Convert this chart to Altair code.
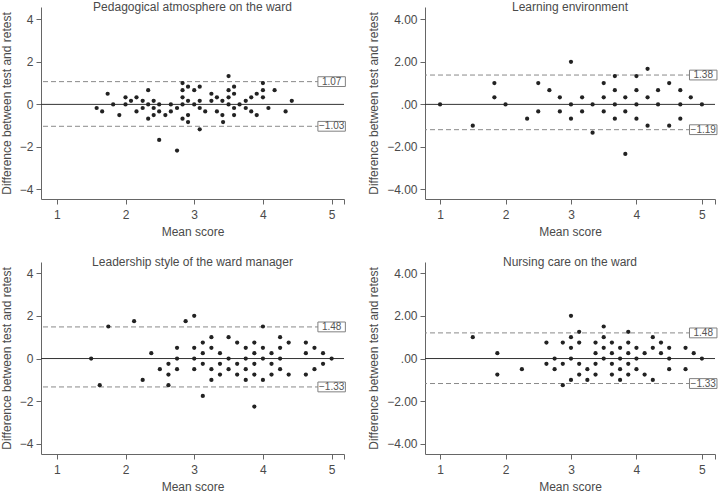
import altair as alt
import pandas as pd

FONT = "Liberation Sans"
TXT = "#4a4a4a"
AX = "#666666"

# ---------------- data ----------------
titles = ["Pedagogical atmosphere on the ward", "Learning environment",
          "Leadership style of the ward manager", "Nursing care on the ward"]

p1_mean = [1.58, 1.66, 1.74, 1.82, 1.91, 2.0, 2.0, 2.08, 2.16, 2.16, 2.25, 2.25, 2.33, 2.33, 2.33,
           2.41, 2.41, 2.41, 2.49, 2.49, 2.49, 2.58, 2.66, 2.66, 2.75, 2.75, 2.83, 2.83, 2.83, 2.83,
           2.83, 2.91, 2.91, 2.91, 2.91, 3.0, 3.0, 3.08, 3.08, 3.08, 3.08, 3.16, 3.25, 3.25, 3.33,
           3.33, 3.41, 3.41, 3.42, 3.5, 3.5, 3.5, 3.5, 3.58, 3.58, 3.58, 3.58, 3.66, 3.75, 3.75,
           3.83, 3.83, 3.91, 3.91, 4.0, 4.0, 4.0, 4.08, 4.17, 4.33, 4.42]
p1_diff = [-0.17, -0.33, 0.5, 0.0, -0.5, 0.33, 0.0, 0.17, 0.33, -0.33, 0.17, -0.17, 0.67, 0.0, -0.67,
           0.17, -0.17, -0.5, 0.0, -0.33, -1.67, -0.5, 0.0, -0.33, -0.17, -2.17, 1.0, 0.67, 0.33, 0.0,
           -0.67, 0.83, 0.17, -0.5, -0.83, 0.67, 0.0, 0.83, 0.17, -0.17, -1.17, -0.33, 0.5, 0.17, 0.33,
           -0.33, 0.17, -0.5, -0.83, 1.33, 0.67, 0.33, 0.0, 0.83, 0.5, -0.17, -0.5, 0.0, 0.17, -0.17,
           0.33, -0.33, 0.5, -0.5, 1.0, 0.67, 0.33, -0.17, 0.67, -0.33, 0.17]

p2_mean = [1.0, 1.5, 1.83, 1.83, 2.0, 2.33, 2.5, 2.5, 2.67, 2.83, 2.83, 3.0, 3.0, 3.0, 3.17, 3.17,
           3.33, 3.33, 3.5, 3.5, 3.5, 3.67, 3.67, 3.67, 3.67, 3.83, 3.83, 3.83, 4.0, 4.0, 4.0, 4.0,
           4.17, 4.17, 4.17, 4.33, 4.33, 4.5, 4.5, 4.67, 4.67, 4.67, 4.83, 5.0]
p2_diff = [0.0, -1.0, 1.0, 0.33, 0.0, -0.67, 1.0, -0.33, 0.67, 0.33, -0.33, 2.0, 0.0, -0.67, 0.33, -0.33,
           0.0, -1.33, 1.0, 0.33, -0.33, 1.33, 0.67, 0.0, -0.67, 0.33, -0.33, -2.33, 1.33, 0.67, 0.0, -0.67,
           1.67, 0.33, -1.0, 0.67, 0.0, 1.0, -1.0, 0.67, 0.0, -0.67, 0.33, 0.0]

p3_mean = [1.5, 1.625, 1.75, 2.125, 2.25, 2.375, 2.5, 2.625, 2.625, 2.625, 2.75, 2.75, 2.75, 2.875,
           3.0, 3.0, 3.0, 3.0, 3.125, 3.125, 3.125, 3.125, 3.25, 3.25, 3.25, 3.25, 3.375, 3.375, 3.375,
           3.5, 3.5, 3.5, 3.625, 3.625, 3.625, 3.75, 3.75, 3.75, 3.75, 3.875, 3.875, 3.875, 3.875, 3.875,
           4.0, 4.0, 4.0, 4.0, 4.125, 4.125, 4.125, 4.25, 4.25, 4.25, 4.25, 4.375, 4.375, 4.625, 4.625,
           4.625, 4.75, 4.75, 4.875, 4.875, 5.0]
p3_diff = [0.0, -1.25, 1.5, 1.75, -1.0, 0.25, -0.5, -0.25, -0.75, -1.25, 0.5, 0.0, -0.5, 1.75,
           2.0, 0.5, 0.0, -0.5, 0.75, 0.25, -0.25, -1.75, 1.0, 0.5, -0.5, -1.0, 0.25, -0.25, -0.75,
           1.0, 0.0, -0.5, 0.75, -0.25, -0.75, 0.5, 0.0, -0.5, -1.0, 0.75, 0.25, -0.25, -0.75, -2.25,
           1.5, 0.5, 0.0, -1.0, 0.25, -0.25, -0.75, 1.0, 0.5, 0.0, -0.5, 0.75, -0.75, 0.75, 0.25,
           -0.75, 0.5, -0.5, 0.25, -0.25, 0.0]

p4_mean = [1.5, 1.875, 1.875, 2.25, 2.625, 2.625, 2.75, 2.75, 2.875, 2.875, 2.875, 3.0, 3.0, 3.0, 3.0,
           3.0, 3.125, 3.125, 3.125, 3.125, 3.25, 3.25, 3.375, 3.375, 3.375, 3.375, 3.5, 3.5, 3.5, 3.5,
           3.625, 3.625, 3.625, 3.625, 3.75, 3.75, 3.75, 3.75, 3.875, 3.875, 3.875, 3.875, 3.875,
           4.0, 4.0, 4.0, 4.125, 4.125, 4.25, 4.25, 4.25, 4.375, 4.375, 4.5, 4.5, 4.5, 4.75, 4.75,
           4.875, 5.0]
p4_diff = [1.0, 0.25, -0.75, -0.5, 0.75, -0.25, 0.0, -0.5, 0.75, -0.25, -1.25, 2.0, 1.0, 0.5, 0.0,
           -1.0, 1.25, 0.75, -0.25, -0.75, -0.5, -1.0, 0.75, 0.25, -0.25, -0.75, 1.5, 1.0, 0.5, 0.0,
           0.75, 0.25, -0.25, -0.75, 0.5, 0.0, -0.5, -1.0, 1.25, 0.75, 0.25, -0.25, -0.75,
           0.5, 0.0, -0.5, 0.25, -0.75, 1.0, 0.5, -1.0, 0.75, 0.25, 0.5, 0.0, -0.5, 0.5, -0.5,
           0.25, 0.0]

# limits of agreement: line positions and their printed labels
upper_pos = [1.07, 1.38, 1.48, 1.20]
lower_pos = [-1.03, -1.19, -1.33, -1.17]
upper_lab = ["1.07", "1.38", "1.48", "1.48"]
lower_lab = ["\u22121.03", "\u22121.19", "\u22121.33", "\u22121.33"]

y_ticks = [-4, -2, 0, 2, 4]
x_ticks = [1, 2, 3, 4, 5]


def panel(i, means, diffs, xdom, ydom, width, decimals, box_l, box_r):
    df = pd.DataFrame({"mean": means, "diff": diffs})
    xs = alt.Scale(domain=xdom, nice=False, zero=False)
    ys = alt.Scale(domain=ydom, nice=False, zero=False)
    if decimals:
        ylabel = "datum.value == 0 ? '.00' : format(datum.value, '.2f')"
    else:
        ylabel = "format(datum.value, 'd')"
    # ticks at the integer scores plus a closing tick at the axis end
    xaxis = alt.Axis(values=x_ticks + [xdom[1]],
                     labelExpr="datum.value > 5.05 ? '' : format(datum.value, 'd')",
                     title="Mean score")
    yaxis = alt.Axis(values=y_ticks, labelExpr=ylabel,
                     title="Difference between test and retest")

    pts = alt.Chart(df).mark_circle(size=18, color="#222222", opacity=1).encode(
        x=alt.X("mean:Q", scale=xs, axis=xaxis),
        y=alt.Y("diff:Q", scale=ys, axis=yaxis),
    )
    zero = alt.Chart(pd.DataFrame({"z": [0]})).mark_rule(color="#333333", strokeWidth=1).encode(
        y=alt.Y("z:Q", scale=ys)
    )
    lim = pd.DataFrame({
        "y": [upper_pos[i], lower_pos[i]],
        "label": [upper_lab[i], lower_lab[i]],
    })
    lim["x1"] = box_l
    lim["x2"] = box_r
    lim["xc"] = (box_l + box_r) / 2
    lim["ylo"] = lim["y"] - 0.23
    lim["yhi"] = lim["y"] + 0.23
    dashed = alt.Chart(lim).mark_rule(color="#8a8a8a", strokeWidth=1, strokeDash=[5, 3]).encode(
        y=alt.Y("y:Q", scale=ys)
    )
    box = alt.Chart(lim).mark_rect(fill="white", stroke="#808080", strokeWidth=1).encode(
        x=alt.X("x1:Q", scale=xs), x2="x2:Q",
        y=alt.Y("ylo:Q", scale=ys), y2="yhi:Q",
    )
    txt = alt.Chart(lim).mark_text(font=FONT, fontSize=10, color="#555555").encode(
        x=alt.X("xc:Q", scale=xs), y=alt.Y("y:Q", scale=ys), text="label:N"
    )
    return alt.layer(dashed, zero, pts, box, txt).properties(
        width=width, height=192,
        title=alt.TitleParams(titles[i], font=FONT, fontSize=12, fontWeight="normal",
                              color=TXT, offset=-7),
    )


c1 = panel(0, p1_mean, p1_diff, [0.77, 5.18], [-4.45, 4.58], 303, False, 4.80, 5.20)
c2 = panel(1, p2_mean, p2_diff, [0.77, 5.20], [-4.45, 4.58], 290, True, 4.81, 5.23)
c3 = panel(2, p3_mean, p3_diff, [0.77, 5.18], [-4.47, 4.52], 303, False, 4.80, 5.20)
c4 = panel(3, p4_mean, p4_diff, [0.77, 5.20], [-4.47, 4.52], 290, True, 4.81, 5.23)

chart = alt.vconcat(
    alt.hconcat(c1, c2, spacing=21),
    alt.hconcat(c3, c4, spacing=21),
    spacing=19,
).properties(
    padding={"left": 0, "top": 1, "right": 0, "bottom": 0},
    background="white",
).configure_view(stroke=None).configure_axis(
    grid=False,
    domainColor=AX, tickColor=AX, tickSize=5,
    labelFont=FONT, titleFont=FONT, labelFontSize=12, titleFontSize=12,
    labelColor=TXT, titleColor=TXT, titleFontWeight="normal",
    labelPadding=3,
).configure_axisX(labelPadding=5, titlePadding=6).configure_axisY(titlePadding=6)

chart.save("out.html", embed_options={"renderer": "svg", "actions": False})
